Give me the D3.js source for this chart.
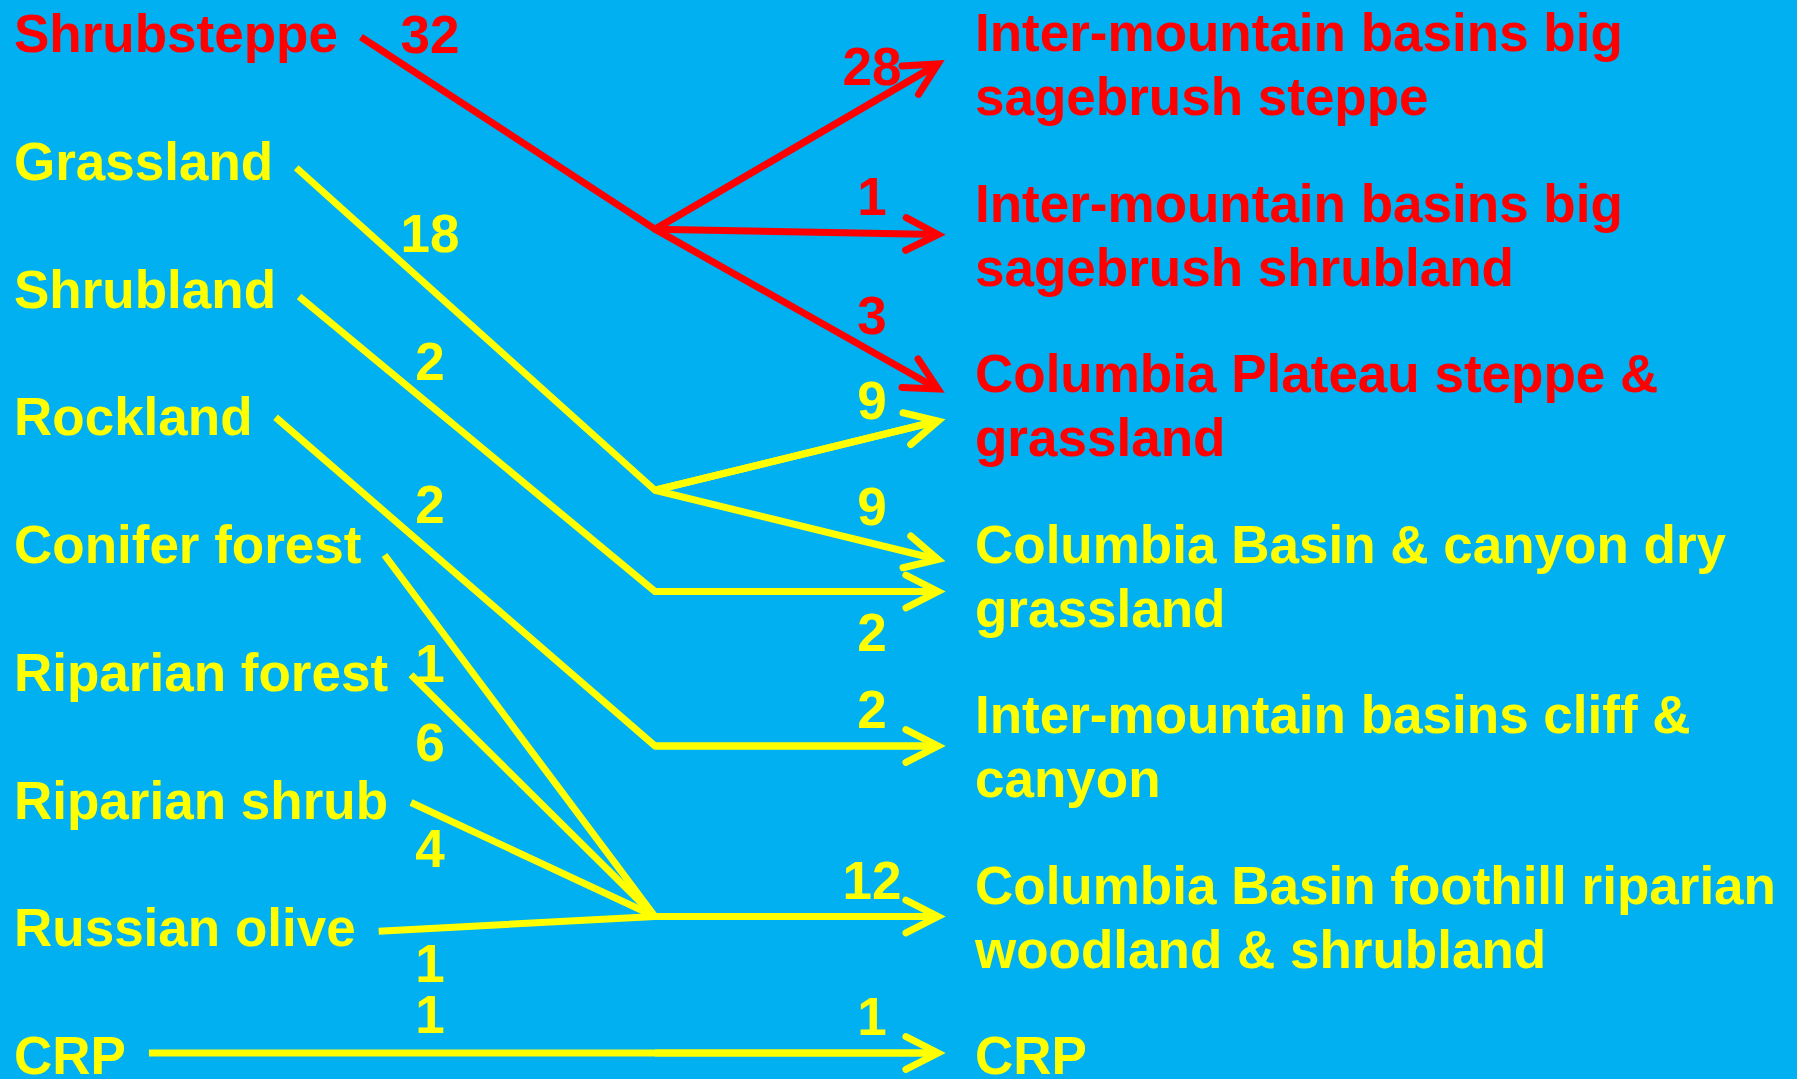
<!DOCTYPE html>
<html>
<head>
<meta charset="utf-8">
<script src="https://cdn.jsdelivr.net/npm/d3@7"></script>
<style>
  html, body { margin: 0; padding: 0; background: #00B0F0; }
  svg { display: block; }
  text { font-family: "Liberation Sans", Arial, sans-serif; font-weight: bold; font-size: 53px; }
</style>
</head>
<body>
<div id="chart"></div>
<script>
// source cover types and their counts
const sources = ["Shrubsteppe", "Grassland", "Shrubland", "Rockland", "Conifer forest",
                 "Riparian forest", "Riparian shrub", "Russian olive", "CRP"];
const sourceCounts = [32, 18, 2, 2, 1, 6, 4, 1, 1];
// which junction each source runs into
const sourceHub = [0, 1, 2, 3, 4, 4, 4, 4, 5];

// target ecological systems (wrapped as on the slide)
const targetLines = [
  ["Inter-mountain basins big", "sagebrush steppe"],
  ["Inter-mountain basins big", "sagebrush shrubland"],
  ["Columbia Plateau steppe &", "grassland"],
  ["Columbia Basin & canyon dry", "grassland"],
  ["Inter-mountain basins cliff &", "canyon"],
  ["Columbia Basin foothill riparian", "woodland & shrubland"],
  ["CRP"]
];

// junction -> target arrows
const linkHub    = [0, 0, 0, 1, 1, 2, 3, 4, 5];
const linkTarget = [0, 1, 2, 2, 3, 3, 4, 5, 6];
const linkCount  = [28, 1, 3, 9, 9, 2, 2, 12, 1];

const highlight = "Shrubsteppe";

// layout
const width = 1797, height = 1079;
const bg = "#00B0F0", red = "#FF0000", yellow = "#FFFF00";
const strokeW = 7, lineGap = 64;
const leftX = 14, rightX = 975, hubX = 655, tipX = 938;
const srcValueX = 430, tgtValueX = 872;
const srcLineDy = [-15, -12, -11, -18, -8, -16, -16, -15, -21];
const srcValueDy = [-29, -36, -25, -28, 66, 67, 56, 53, -20];
const tgtValueBelow = [false, false, false, false, false, true, false, false, false];

const svg = d3.select("#chart").append("svg")
    .attr("width", width)
    .attr("height", height);

svg.append("rect").attr("width", width).attr("height", height).attr("fill", bg);

const ySrc = d3.scalePoint().domain(sources).range([52, 1074]);
const yTgt = d3.scalePoint().domain(d3.range(targetLines.length)).range([51, 1074]);

const redHub = sourceHub[sources.indexOf(highlight)];
const hubColor = h => h === redHub ? red : yellow;
const targetColor = t => linkTarget.some((tt, i) => tt === t && linkHub[i] === redHub) ? red : yellow;

// arrow tip y for each link
const tipY = linkTarget.map((t, i) => {
  const lines = targetLines[t].length;
  const center = lines > 1 ? yTgt(t) + 13 : yTgt(t) - 21;
  const into = linkTarget.map((tt, j) => tt === t ? j : -1).filter(j => j >= 0);
  const k = into.indexOf(i);
  return center + (k - (into.length - 1) / 2) * 32;
});
const hubY = d3.range(d3.max(linkHub) + 1).map(h =>
  d3.mean(linkHub.map((hh, i) => hh === h ? tipY[i] : null).filter(v => v !== null)));

// left labels
const srcText = svg.append("g").selectAll("text")
  .data(sources)
  .enter().append("text")
    .attr("x", leftX)
    .attr("y", d => ySrc(d))
    .attr("fill", (d, i) => hubColor(sourceHub[i]))
    .text(d => d);

const srcStart = [];
srcText.each(function(d, i) {
  srcStart[i] = [leftX + this.getComputedTextLength() + 23, ySrc(d) + srcLineDy[i]];
});

// right labels
const tgtG = svg.append("g").selectAll("text")
  .data(targetLines)
  .enter().append("text")
    .attr("x", rightX)
    .attr("y", (d, i) => yTgt(i))
    .attr("fill", (d, i) => targetColor(i));
tgtG.selectAll("tspan")
  .data(d => d)
  .enter().append("tspan")
    .attr("x", rightX)
    .attr("dy", (d, i) => i === 0 ? 0 : lineGap)
    .text(d => d);

const line = d3.line();
const yAt = (x, p0, p1) => p0[1] + (x - p0[0]) * (p1[1] - p0[1]) / (p1[0] - p0[0]);

// draw yellow first, red on top
const order = d3.range(linkHub.length).sort((a, b) => (linkHub[a] === redHub) - (linkHub[b] === redHub));
const srcOrder = d3.range(sources.length).sort((a, b) => (sourceHub[a] === redHub) - (sourceHub[b] === redHub));

const lines = svg.append("g")
  .attr("fill", "none")
  .attr("stroke-width", strokeW)
  .attr("stroke-linejoin", "miter")
  .attr("stroke-miterlimit", 10);

// source -> junction segments
srcOrder.forEach(i => {
  const h = sourceHub[i];
  const firstLink = linkHub.indexOf(h);
  lines.append("path")
    .attr("stroke", hubColor(h))
    .attr("d", line([srcStart[i], [hubX, hubY[h]], [tipX, tipY[firstLink]]]));
});

// junction -> target arrows
order.forEach(i => {
  const h = linkHub[i];
  const p0 = [hubX, hubY[h]], p1 = [tipX, tipY[i]];
  lines.append("path")
    .attr("stroke", hubColor(h))
    .attr("d", line([p0, p1]));
  const a = Math.atan2(p1[1] - p0[1], p1[0] - p0[0]);
  const L = 36, s = 27 * Math.PI / 180;
  lines.append("path")
    .attr("stroke", hubColor(h))
    .attr("stroke-linecap", "round")
    .attr("d", line([
      [p1[0] - L * Math.cos(a - s), p1[1] - L * Math.sin(a - s)],
      p1,
      [p1[0] - L * Math.cos(a + s), p1[1] - L * Math.sin(a + s)]
    ]));
});

// counts at the sources
svg.append("g").selectAll("text")
  .data(sourceCounts)
  .enter().append("text")
    .attr("x", srcValueX)
    .attr("text-anchor", "middle")
    .attr("y", (d, i) => yAt(srcValueX, srcStart[i], [hubX, hubY[sourceHub[i]]]) + srcValueDy[i])
    .attr("fill", (d, i) => hubColor(sourceHub[i]))
    .text(d => d);

// counts at the targets
svg.append("g").selectAll("text")
  .data(linkCount)
  .enter().append("text")
    .attr("x", tgtValueX)
    .attr("text-anchor", "middle")
    .attr("y", (d, i) => yAt(tgtValueX, [hubX, hubY[linkHub[i]]], [tipX, tipY[i]]) + (tgtValueBelow[i] ? 59 : -18))
    .attr("fill", (d, i) => hubColor(linkHub[i]))
    .text(d => d);
</script>
</body>
</html>
